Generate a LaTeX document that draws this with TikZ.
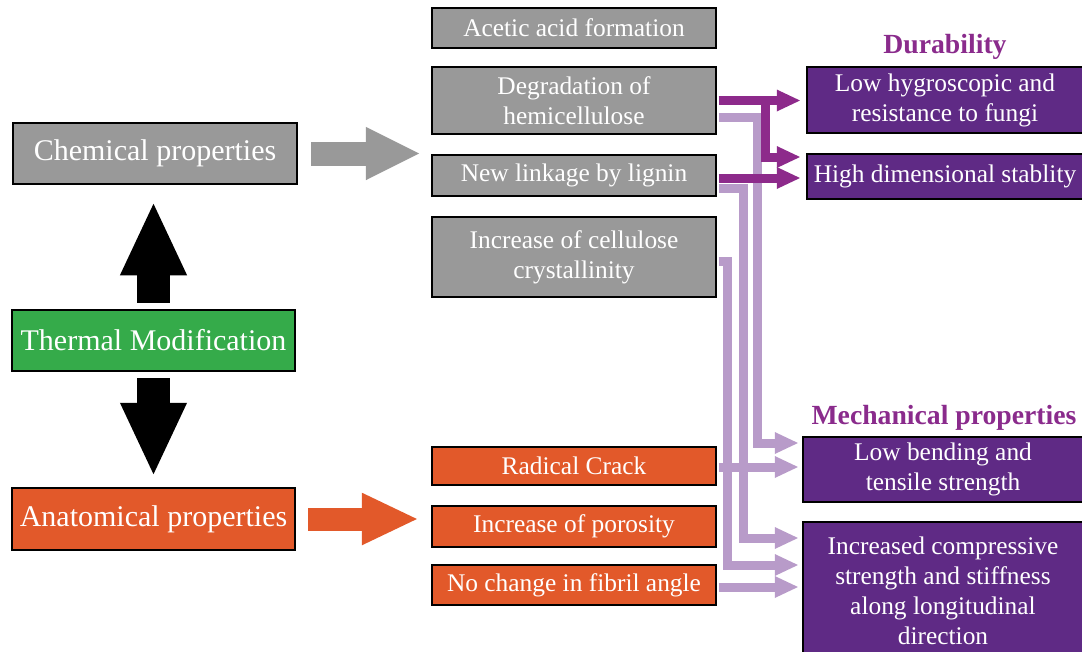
\documentclass[tikz,border=0pt]{standalone}
\usepackage{fontspec}
\setmainfont{Liberation Serif}
\usetikzlibrary{arrows.meta}
\definecolor{boxgray}{HTML}{999999}
\definecolor{boxgreen}{HTML}{35AB4A}
\definecolor{boxorange}{HTML}{E2592A}
\definecolor{boxpurple}{HTML}{5F2A85}
\definecolor{lnkdark}{HTML}{8D2A8B}
\definecolor{lnklight}{HTML}{B89BC9}
\definecolor{headpurple}{HTML}{8A2B8C}
\begin{document}
\begin{tikzpicture}[x=1pt,y=-1pt,
  box/.style={draw=black, line width=2.5pt, inner sep=0pt, text=white, align=center},
  leftbox/.style={box, minimum width=283pt, minimum height=61pt, font=\fontsize{30}{35}\selectfont},
  midbox/.style={box, fill=boxgray, minimum width=284pt, font=\fontsize{25.4}{30}\selectfont},
  orbox/.style={box, fill=boxorange, minimum width=284pt, font=\fontsize{25.4}{30}\selectfont},
  rightbox/.style={box, fill=boxpurple, font=\fontsize{25.4}{30}\selectfont},
  heading/.style={text=headpurple, font=\fontsize{27.7}{32}\selectfont\bfseries, inner sep=0pt},
  darklink/.style={draw=lnkdark, line width=9pt, -{Triangle[length=24pt,width=20pt]}, shorten >=5pt},
  lightlink/.style={draw=lnklight, line width=9pt, -{Triangle[length=24pt,width=20pt]}, shorten >=3pt},
]
\useasboundingbox (0,0) rectangle (1082,651);
\clip (0,0) rectangle (1082,651);

% left column
\node[leftbox, fill=boxgray, minimum width=284pt] (chem) at (155,153.5) {Chemical properties};
\node[leftbox, fill=boxgreen] (thermal) at (153.5,340.5) {Thermal Modification};
\node[leftbox, fill=boxorange, minimum height=62pt] (anat) at (153.5,519) {Anatomical properties};

% middle column
\node[midbox, minimum height=40pt] (acetic) at (574,28) {Acetic acid formation};
\node[midbox, minimum height=67pt] (degr) at (574,100.5) {Degradation of\\hemicellulose};
\node[midbox, minimum height=41pt] (newl) at (574,175.5) {New linkage by lignin};
\node[midbox, minimum height=80pt] (cellu) at (574,257) {Increase of cellulose\\crystallinity};
\node[orbox, minimum height=38pt] (radical) at (574,466) {Radical Crack};
\node[orbox, minimum height=41pt] (poros) at (574,526.5) {Increase of porosity};
\node[orbox, minimum height=40pt] (nochange) at (574,585) {No change in fibril angle};

% right column
\node[heading] (durab) at (945,47) {Durability};
\node[rightbox, minimum width=276pt, minimum height=66pt] (hygro) at (945,100) {Low hygroscopic and\\resistance to fungi};
\node[rightbox, minimum width=276pt, minimum height=45pt] (dimen) at (945,176.5) {High dimensional stablity};
\node[heading] (mech) at (944,418) {Mechanical properties};
\node[rightbox, minimum width=280pt, minimum height=65pt] (bend) at (943,469.5) {Low bending and\\tensile strength};
\node[rightbox, minimum width=280pt, minimum height=138pt] (compr) at (943,591) {Increased compressive\\strength and stiffness\\along longitudinal\\direction};

% block arrows
\draw[black, line width=33pt, -{Triangle[length=74pt,width=61pt]}, shorten <=6pt, shorten >=16pt]
  (thermal.north) -- (thermal.north |- chem.south);
\draw[black, line width=33pt, -{Triangle[length=74pt,width=61pt]}, shorten <=6pt, shorten >=10pt]
  (thermal.south) -- (thermal.south |- anat.north);
\draw[boxgray, line width=24pt, -{Triangle[length=55pt,width=49pt]}, shorten <=13pt, shorten >=10pt]
  (chem.east) -- (chem.east -| degr.west);
\draw[boxorange, line width=23pt, -{Triangle[length=57pt,width=48pt]}, shorten <=12pt, shorten >=12pt]
  (anat.east) -- (anat.east -| poros.west);

% bus positions
\coordinate (xa) at (757,0);
\coordinate (xb) at (743,0);
\coordinate (xc) at (727,0);
\coordinate (xd) at (765,0);

% sources
\coordinate (sd1) at ([shift={(1.25pt,0)}]degr.east);
\coordinate (sd2) at ([shift={(1.25pt,-16.5pt)}]degr.east);
\coordinate (sn1) at ([shift={(1.25pt,-2.5pt)}]newl.east);
\coordinate (sn2) at ([shift={(1.25pt,-12.5pt)}]newl.east);
\coordinate (sc) at ([shift={(1.25pt,-4pt)}]cellu.east);
\coordinate (sr) at ([shift={(1.25pt,-1pt)}]radical.east);
\coordinate (sno) at ([shift={(1.25pt,-2pt)}]nochange.east);

% targets
\coordinate (th) at ([yshift=-1pt]hygro.west);
\coordinate (td1) at ([yshift=19.5pt]dimen.west);
\coordinate (td2) at ([yshift=-1.5pt]dimen.west);
\coordinate (tb1) at ([yshift=26.5pt]bend.west);
\coordinate (tb2) at ([yshift=2.5pt]bend.west);
\coordinate (tc1) at ([yshift=53pt]compr.west);
\coordinate (tc2) at ([yshift=26pt]compr.west);
\coordinate (tc3) at ([yshift=4pt]compr.west);

% light (mechanical) links
\draw[lightlink] (sd2) -- (sd2 -| xa) |- (tb1);
\draw[lightlink] (sn2) -- (sn2 -| xb) |- (tc1);
\draw[lightlink] (sc) -- (sc -| xc) |- (tc2);
\draw[lightlink] (sr) -- (sr -| tb2);
\draw[lightlink] (sno) -- (sno -| tc3);

% dark (durability) links
\draw[darklink] (sd1) -- (sd1 -| th);
\draw[darklink] (sd1 -| xd) |- (td1);
\draw[darklink] (sn1) -- (sn1 -| td2);
\end{tikzpicture}
\end{document}
